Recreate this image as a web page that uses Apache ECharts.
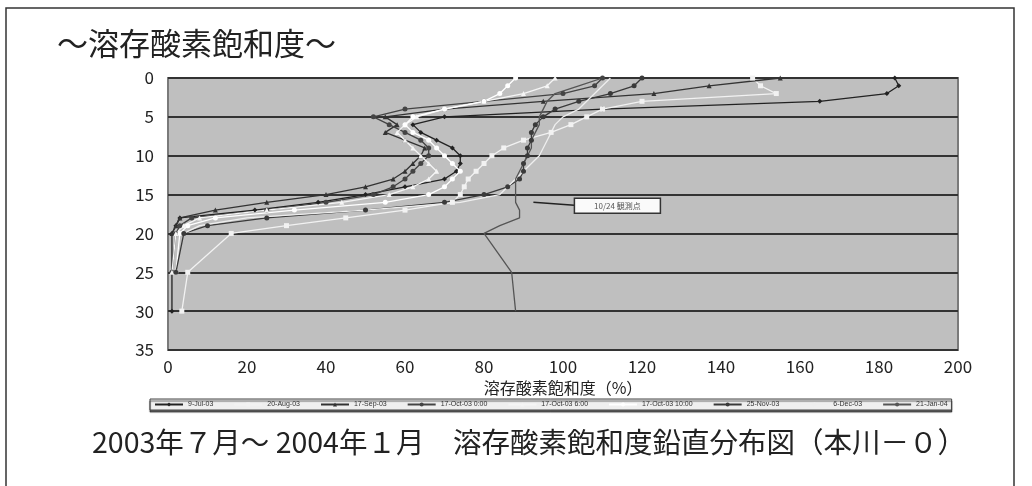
<!DOCTYPE html>
<html>
<head>
<meta charset="utf-8">
<script src="https://cdn.jsdelivr.net/npm/echarts@6/dist/echarts.min.js"></script>
<style>
  body { margin: 0; background: #fff; }
  #chart { width: 1032px; height: 486px; }
</style>
</head>
<body>
<div id="chart"></div>
<script>
// 水深 (m)
const depths = [0, 1, 2, 3, 4, 5, 6, 7, 8, 9, 10, 11, 12, 13, 14, 15, 16, 17, 18, 19, 20, 25, 30]
const xTicks = [0, 20, 40, 60, 80, 100, 120, 140, 160, 180, 200]
const yTicks = [0, 5, 10, 15, 20, 25, 30, 35]

const seriesNames = ['9-Jul-03', '20-Aug-03', '17-Sep-03', '17-Oct-03 0:00', '17-Oct-03 6:00',
  '17-Oct-03 10:00', '25-Nov-03', '6-Dec-03', '21-Jan-04']

// 溶存酸素飽和度 (%)
const jul09 = [184, 185, 182, 165, 110, 70, 62, 64, 68, 72, 74, 74, 73, 70, 60, 50, 38, 22, 3, 2, 1, 1, 1]
const aug20 = [148, 150, 154, 120, 110, 106, 102, 97, 90, 85, 82, 80, 78, 76, 75, 74, 72, 60, 45, 30, 16, 5, 3.5]
const sep17 = [155, 137, 123, 95, 70, 55, 58, 55, 60, 65, 64, 62, 60, 57, 50, 40, 25, 12, 3, 2, 1, null, null]
const oct17a = [110, 108, 100, 80, 60, 52, 56, 60, 64, 66, 66, 64, 62, 60, 57, 52, 40, 25, 6, 3, 2, 1, null]
const oct17b = [98, 96, 90, 80, 70, 63, 60, 58, 60, 62, 64, 66, 68, 66, 62, 56, 44, 25, 8, 4, 2, 1, null]
const oct17c = [88, 86, 84, 80, 70, 62, 60, 62, 66, 68, 70, 72, 74, 72, 70, 66, 55, 32, 12, 5, 3, 2, null]
const nov25 = [120, 118, 112, 104, 98, 95, 93, 92, 92, 91, 91, 90, 90, 89, 86, 80, 70, 50, 25, 10, 4, 2, null]
const dec06 = [112, 110, 108, 106, 104, 100, 98, 97, 96, 95, 94, 92, 90, 88, 86, 84, 74, 50, 20, 8, 4, null, null]
const jan21 = [110, 104, 98, 96, 95, 94, 94, 93, 92, 92, 91, 90, 89, 88, 88, 88, 88, 89, 89, 84, 80, 87, 88]

const seriesValues = [jul09, aug20, sep17, oct17a, oct17b, oct17c, nov25, dec06, jan21]
const seriesColors = ['#222', '#f2f2f2', '#333', '#444', '#f5f5f5', '#ffffff', '#3a3a3a', '#eeeeee', '#555']
const seriesSymbols = ['diamond', 'rect', 'triangle', 'circle', 'triangle', 'circle', 'circle', 'none', 'none']

const annotation = { x: 92, y: 16, text: '10/24 観測点' }

const font = '"Noto Sans CJK JP", "Noto Sans", sans-serif'
const chart = echarts.init(document.getElementById('chart'))

const series = seriesNames.map((name, i) => ({
  name: name,
  type: 'line',
  data: depths.map((d, j) => [seriesValues[i][j], d]).filter(p => p[0] !== null),
  symbol: seriesSymbols[i],
  symbolSize: 5,
  showSymbol: seriesSymbols[i] !== 'none',
  lineStyle: { color: seriesColors[i], width: 1.3 },
  itemStyle: { color: seriesColors[i] },
  emphasis: { disabled: true },
  z: 3,
}))

chart.setOption({
  animation: false,
  grid: {
    left: 168, right: 74, top: 78, bottom: 136,
    show: true, backgroundColor: '#bfbfbf', borderColor: '#7a7a7a', borderWidth: 2,
  },
  xAxis: {
    type: 'value', min: xTicks[0], max: xTicks[xTicks.length - 1], interval: 20,
    name: '溶存酸素飽和度（%）', nameLocation: 'middle', nameGap: 23,
    nameTextStyle: { fontFamily: font, fontSize: 16, color: '#222' },
    axisLine: { show: false }, axisTick: { show: false }, splitLine: { show: false },
    axisLabel: { fontFamily: font, fontSize: 17, color: '#222', margin: 8 },
  },
  yAxis: {
    type: 'value', inverse: true, min: yTicks[0], max: yTicks[yTicks.length - 1], interval: 5,
    axisLine: { show: false }, axisTick: { show: false },
    splitLine: { show: true, lineStyle: { color: '#333', width: 2 } },
    axisLabel: { fontFamily: font, fontSize: 17, color: '#222', margin: 14 },
  },
  legend: {
    left: 150, top: 399, width: 816,
    padding: [2, 4], itemGap: 20, itemWidth: 28, itemHeight: 5,
    backgroundColor: '#efefef', borderColor: '#444', borderWidth: 1,
    shadowColor: 'rgba(0,0,0,0.6)', shadowOffsetY: 2, shadowBlur: 1,
    textStyle: { fontSize: 7, color: '#333' },
    data: seriesNames,
  },
  series: series,
})

// 注記（吹き出し）と表題
const p = chart.convertToPixel({ gridIndex: 0 }, [annotation.x, annotation.y])
chart.setOption({
  graphic: [
    { type: 'rect', shape: { x: 6, y: 8, width: 1008, height: 500 }, style: { fill: 'none', stroke: '#333', lineWidth: 1.5 }, silent: true },
    { type: 'text', left: 57, top: 28, style: { text: '～溶存酸素飽和度～', font: '31px ' + font, fill: '#222' } },
    { type: 'text', left: 92, top: 428, style: { text: '2003年７月～ 2004年１月　溶存酸素飽和度鉛直分布図（本川－０）', font: '28.5px ' + font, fill: '#222' } },
    { type: 'line', shape: { x1: p[0] + 2, y1: p[1], x2: p[0] + 43, y2: p[1] + 3 }, style: { stroke: '#222', lineWidth: 1.5 }, z: 10 },
    { type: 'rect', shape: { x: p[0] + 43, y: p[1] - 4, width: 86, height: 15 }, style: { fill: '#fafafa', stroke: '#333', lineWidth: 1.5 }, z: 10 },
    { type: 'text', x: p[0] + 86, y: p[1] + 3.5, style: { text: annotation.text, font: '8px ' + font, fill: '#555', align: 'center', verticalAlign: 'middle' }, z: 11 },
  ],
})
</script>
</body>
</html>
